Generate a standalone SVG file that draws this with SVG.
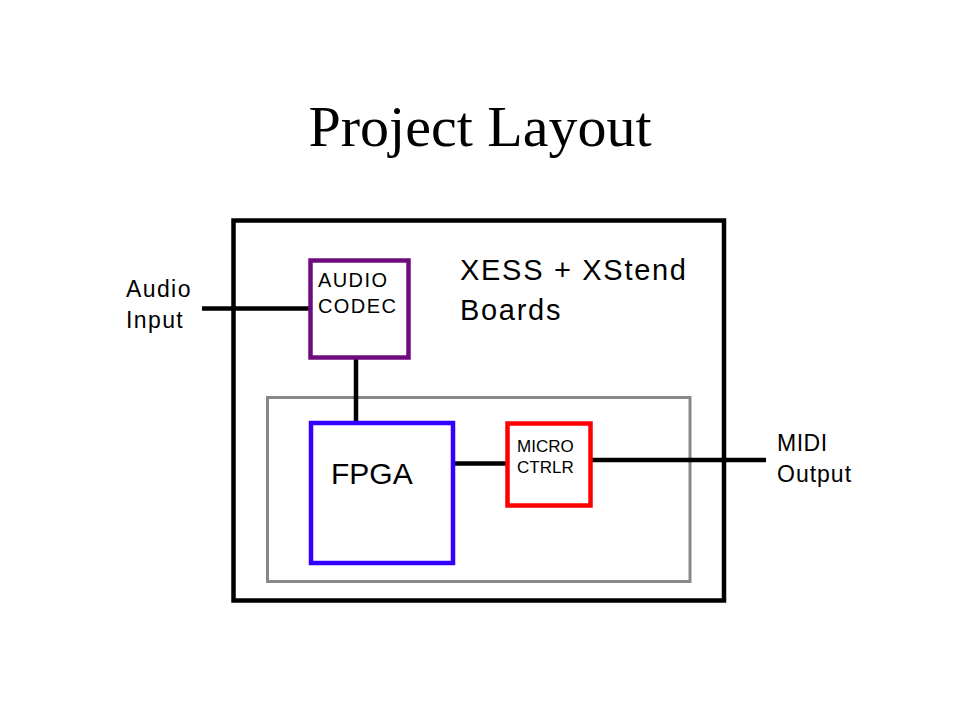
<svg xmlns="http://www.w3.org/2000/svg" width="960" height="720" viewBox="0 0 960 720">
<style>
.box{fill:none;stroke-width:4.5}
.wire{stroke:#000;stroke-width:4.5;fill:none}
.t{font-family:"Liberation Sans",Arial,sans-serif;fill:#000}
</style>
<rect width="960" height="720" fill="#fff"/>
<text x="480" y="146" text-anchor="middle" font-family="Liberation Serif,'Times New Roman',serif" font-size="58" fill="#000">Project Layout</text>
<g id="boards">
<rect class="box" x="233.5" y="220.5" width="490.5" height="380" stroke="#000"/>
<text class="t" x="460" y="280" font-size="29" letter-spacing="1.7">XESS + XStend</text>
<text class="t" x="460" y="320" font-size="29" letter-spacing="1.7">Boards</text>
</g>
<g id="inner">
<rect x="267.5" y="397.5" width="422.5" height="184" fill="none" stroke="#888" stroke-width="3"/>
</g>
<g id="connectors">
<line class="wire" x1="202" y1="308.5" x2="310" y2="308.5"/>
<line class="wire" x1="356" y1="358" x2="356" y2="423"/>
<line class="wire" x1="453" y1="463.5" x2="508" y2="463.5"/>
<line class="wire" x1="590" y1="460" x2="766" y2="460"/>
</g>
<g id="codec">
<rect class="box" x="310.5" y="260.5" width="98" height="97" stroke="#6E0C7E"/>
<text class="t" x="318" y="287" font-size="20" letter-spacing="1.4">AUDIO</text>
<text class="t" x="318" y="313" font-size="20" letter-spacing="1.4">CODEC</text>
</g>
<g id="fpga">
<rect class="box" x="311" y="423" width="142" height="140" stroke="#3300FF"/>
<text class="t" x="331" y="484" font-size="30">FPGA</text>
</g>
<g id="micro">
<rect class="box" x="507.5" y="423.5" width="83" height="82" stroke="#FF0000"/>
<text class="t" x="517" y="452" font-size="17">MICRO</text>
<text class="t" x="517" y="473" font-size="17">CTRLR</text>
</g>
<g id="audio-input">
<text class="t" x="126" y="297" font-size="23" letter-spacing="1.4">Audio</text>
<text class="t" x="126" y="328" font-size="23" letter-spacing="1.4">Input</text>
</g>
<g id="midi-output">
<text class="t" x="777" y="451" font-size="23" letter-spacing="0.5">MIDI</text>
<text class="t" x="777" y="482" font-size="23" letter-spacing="1">Output</text>
</g>
</svg>
